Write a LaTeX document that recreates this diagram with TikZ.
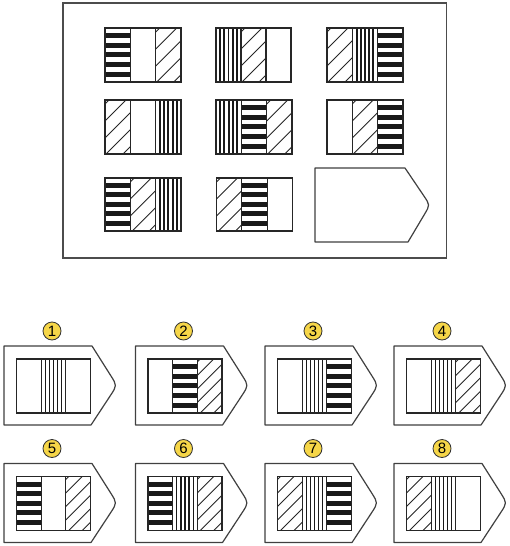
\documentclass[tikz,border=0pt]{standalone}
\usepackage{fontspec}
\setmainfont{Liberation Sans}
\definecolor{lblyellow}{RGB}{246,214,72}
\tikzset{
  cellln/.style={draw=black!85, line width=1.1pt},
  frm/.style={draw=black!75, line width=1.2pt, line join=round},
  outerfrm/.style={draw=black!70, line width=1.2pt},
  lbl/.style={circle, fill=lblyellow, draw=black!80, line width=0.8pt, minimum size=18pt, inner sep=0pt, font=\fontsize{15}{15}\selectfont}
}
\def\vlw{1.4pt}
\def\dsp{17}
\def\dph{4}
\newcommand\stripeE[4]{}
\newcommand\stripeH[4]{\foreach \i in {0,...,4}{\fill[black!90] (#1,{#2+#4*(0.095+0.178*\i)}) rectangle ({#1+#3},{#2+#4*(0.095+0.178*\i)+#4*0.092});}}
\newcommand\stripeV[4]{\foreach \i in {1,...,5}{\draw[black!90, line width=\vlw] ({#1+#3*\i/6},#2) -- ({#1+#3*\i/6},{#2+#4});}}
\newcommand\stripeD[4]{\begin{scope}\clip (#1,#2) rectangle ({#1+#3},{#2+#4});\foreach \i in {0,...,7}{\draw[black!85, line width=0.9pt] (#1,{#2+\dph+\i*\dsp}) -- ({#1+#3+#4},{#2+\dph+\i*\dsp-#3-#4});}\end{scope}}
\newcommand\cell[7]{%
  \pgfmathsetmacro\cellx{#1}\pgfmathsetmacro\celly{#2}\pgfmathsetmacro\sw{#3/3}%
  \pgfmathsetmacro\xb{\cellx+\sw}\pgfmathsetmacro\xc{\cellx+2*\sw}%
  \csname stripe#5\endcsname{\cellx}{\celly}{\sw}{#4}%
  \csname stripe#6\endcsname{\xb}{\celly}{\sw}{#4}%
  \csname stripe#7\endcsname{\xc}{\celly}{\sw}{#4}%
  \draw[cellln] (\cellx,\celly) rectangle ++(#3,#4);
  \draw[cellln] (\xb,\celly) -- ++(0,#4) (\xc,\celly) -- ++(0,#4);
}
\newcommand\penta[2]{\draw[frm] (#1,#2) -- ({#1+88},#2) -- ({#1+106.75},{#2+29.6}) .. controls ({#1+113},{#2+39.5}) .. ({#1+106.5},{#2+49.4}) -- ({#1+87},{#2+79}) -- (#1,{#2+79}) -- cycle;}
\begin{document}
\begin{tikzpicture}[x=1pt,y=-1pt]
\useasboundingbox[fill=white] (0,0) rectangle (509,546);
% puzzle frame
\draw[outerfrm] (63,3) rectangle (446.5,258);
\def\vlw{1.9pt}\def\dsp{17}\def\dph{4}
\cell{105}{28}{76}{54}{H}{E}{D}
\cell{216}{28}{75}{54}{V}{D}{E}
\cell{327}{28}{76}{54}{D}{V}{H}
\cell{105}{100}{76}{54}{D}{E}{V}
\cell{216}{100}{76}{54}{V}{H}{D}
\cell{327}{100}{76}{54}{E}{D}{H}
\cell{105}{178}{76}{53}{H}{D}{V}
\cell{216.5}{178}{76}{53}{D}{H}{E}
\draw[frm] (315,168) -- (405,168) -- (423.75,195.75) .. controls (430,205) .. (424.5,214.25) -- (408,242) -- (315,242) -- cycle;
% answer options
\def\vlw{1.3pt}\def\dsp{13.5}\def\dph{3}
\foreach \n/\x/\y/\a/\b/\c in {1/4/346/E/V/E, 2/135.5/346/E/H/D, 3/265/346/E/V/H, 4/394/346/E/V/D,
  5/4/463.5/H/E/D, 6/135.5/463.5/H/V/D, 7/265/463.5/D/V/H, 8/394/463.5/D/V/E}{
  \penta{\x}{\y}
  \cell{\x+12.5}{\y+13}{74}{54}{\a}{\b}{\c}
  \node[lbl] (lab\n) at ({\x+48},{\y-15}) {\n};
}
\end{tikzpicture}
\end{document}
